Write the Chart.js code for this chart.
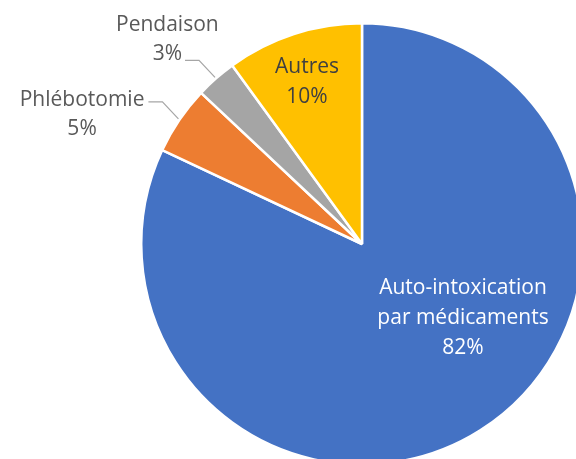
<!DOCTYPE html>
<html>
<head>
<meta charset="utf-8">
<script src="https://cdn.jsdelivr.net/npm/chart.js@4"></script>
<style>
  html, body { margin: 0; padding: 0; width: 576px; height: 459px; overflow: hidden; background: #fff; }
  .wrap { position: absolute; left: 0; top: 0; width: 724px; height: 488px; }
</style>
</head>
<body>
<div class="wrap"><canvas id="pie"></canvas></div>
<script>
// ── Data ──
const CATEGORIES = ['Auto-intoxication par médicaments', 'Phlébotomie', 'Pendaison', 'Autres'];
const VALUES = [82, 5, 3, 10];
const COLORS = ['#4472C4', '#ED7D31', '#A5A5A5', '#FFC000'];
const LABEL_LINES = [['Auto-intoxication', 'par médicaments', '82%'], ['Phlébotomie', '5%'], ['Pendaison', '3%'], ['Autres', '10%']];

// ── Label plugin ──
const labelPlugin = {
  id: 'pieLabels',
  afterDatasetsDraw(chart) {
    const ctx = chart.ctx;
    const arcs = chart.getDatasetMeta(0).data;
    const lh = 30;
    ctx.save();
    ctx.font = '21px "Open Sans", sans-serif';
    ctx.textAlign = 'center';
    ctx.textBaseline = 'middle';

    const drawLines = (lines, x, y, color) => {
      ctx.fillStyle = color;
      const y0 = y - (lines.length - 1) * lh / 2;
      lines.forEach((t, i) => ctx.fillText(t, x, y0 + i * lh));
    };

    arcs.forEach((arc, i) => {
      const { x, y, outerRadius, startAngle, endAngle } = arc;
      const mid = (startAngle + endAngle) / 2;
      const ex = x + Math.cos(mid) * outerRadius;
      const ey = y + Math.sin(mid) * outerRadius;
      if (i === 0) {
        drawLines(LABEL_LINES[i], x + 101, y + 74, '#ffffff');
      } else if (i === 3) {
        drawLines(LABEL_LINES[i], x - 55, y - 162, '#404040');
      } else {
        // outside label with leader line
        const hx = ex - 17, hy = ey - 18;
        const tx = hx - 14;
        ctx.strokeStyle = '#A6A6A6';
        ctx.lineWidth = 1.2;
        ctx.beginPath();
        ctx.moveTo(ex - 1, ey - 1);
        ctx.lineTo(hx, hy);
        ctx.lineTo(tx, hy);
        ctx.stroke();
        ctx.fillStyle = '#595959';
        const w0 = ctx.measureText(LABEL_LINES[i][0]).width;
        const w1 = ctx.measureText(LABEL_LINES[i][1]).width;
        if (i === 2) {
          const cx = tx - 3 - w1 / 2;
          ctx.fillText(LABEL_LINES[i][1], cx, hy - 6);
          ctx.fillText(LABEL_LINES[i][0], cx, hy - 6 - lh + 1);
        } else {
          const cx = tx - 4 - w0 / 2;
          ctx.fillText(LABEL_LINES[i][0], cx, hy - 2);
          ctx.fillText(LABEL_LINES[i][1], cx, hy - 2 + lh - 1);
        }
      }
    });
    ctx.restore();
  }
};

// ── Chart ──
new Chart(document.getElementById('pie'), {
  type: 'pie',
  data: {
    labels: CATEGORIES,
    datasets: [{
      data: VALUES,
      backgroundColor: COLORS,
      borderColor: '#ffffff',
      borderWidth: 2.5,
    }],
  },
  options: {
    responsive: true, maintainAspectRatio: false,
    animation: false,
    layout: { padding: 22 },
    plugins: { legend: { display: false }, tooltip: { enabled: false } },
  },
  plugins: [labelPlugin],
});
</script>
</body>
</html>
